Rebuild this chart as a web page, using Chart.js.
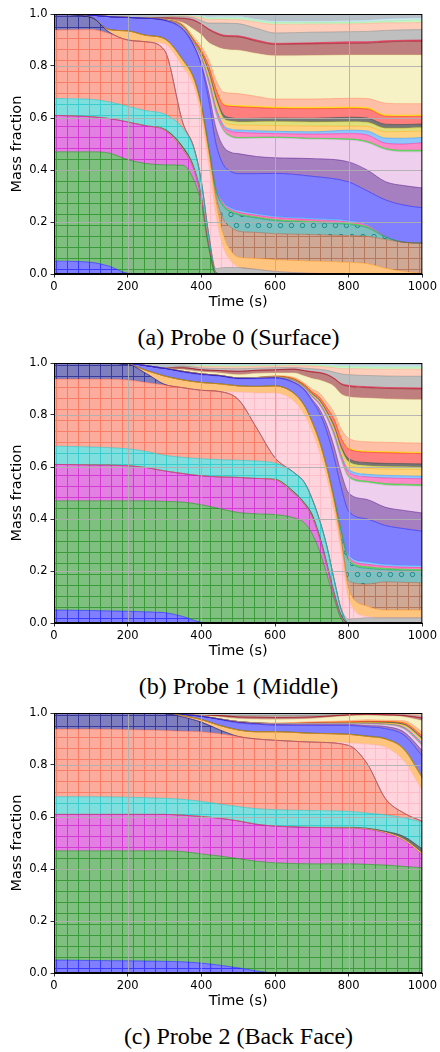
<!DOCTYPE html>
<html lang="en">
<head>
<meta charset="utf-8">
<title>Species mass fractions at three probes</title>
<script src="https://cdn.jsdelivr.net/npm/chart.js@4.4.1/dist/chart.umd.min.js"></script>
<style>
  html,body{margin:0;padding:0;background:#fff;}
  body{width:440px;height:1052px;position:relative;overflow:hidden;}
  canvas.plot{position:absolute;left:0;width:440px;height:312px;}
  .cap{position:absolute;left:0;width:477px;text-align:center;font-family:"Liberation Serif","DejaVu Serif",serif;font-size:24px;line-height:24px;color:#000;white-space:nowrap;}
</style>
</head>
<body>
<canvas id="probe0" class="plot" width="440" height="312" style="top:0px"></canvas>
<div class="cap" style="top:325px">(a) Probe 0 (Surface)</div>
<canvas id="probe1" class="plot" width="440" height="312" style="top:349px"></canvas>
<div class="cap" style="top:674px">(b) Probe 1 (Middle)</div>
<canvas id="probe2" class="plot" width="440" height="312" style="top:699px"></canvas>
<div class="cap" style="top:1024px">(c) Probe 2 (Back Face)</div>
<script>
// ---------------- Probe 0 (surface): time grid and species mass fractions ----------------
const p0_time = [0,100,150,200,250,300,350,380,400,420,440,460,480,500,550,600,700,800,850,900,950,1000];
const p0_bR = [.05,.045,.03,.003,0,0,0,0,0,0,0,0,0,0,0,0,0,0,0,0,0,0];
const p0_gR = [.42,.425,.435,.437,.425,.42,.418,.36,.27,.10,0,0,0,0,0,0,0,0,0,0,0,0];
const p0_mR = [.14,.135,.133,.145,.145,.133,.06,.04,.02,.01,0,0,0,0,0,0,0,0,0,0,0,0];
const p0_yL = [0,0,0,0,0,.001,.002,.002,.002,.001,0,0,0,0,0,0,0,0,0,0,0,0];
const p0_dG = [0,0,0,0,0,.003,.008,.008,.008,.004,0,0,0,0,0,0,0,0,0,0,0,0];
const p0_cR = [.065,.067,.064,.06,.058,.058,.072,.07,.055,.035,.005,0,0,0,0,0,0,0,0,0,0,0];
const p0_sR = [.263,.268,.263,.255,.265,.245,.02,.005,0,0,0,0,0,0,0,0,0,0,0,0,0,0];
const p0_nR = [.062,.048,.005,0,0,0,0,0,0,0,0,0,0,0,0,0,0,0,0,0,0,0];
const p0_lG = [0,0,0,0,0,0,0,0,.002,.005,.015,.025,.025,.025,.018,.01,.003,0,0,0,0,0];
const p0_pI = [0,0,0,0,0,.025,.215,.235,.243,.265,.20,.075,.025,.002,0,0,0,0,0,0,0,0];
const p0_oR = [0,0,.01,.035,.025,.02,.027,.03,.04,.05,.055,.05,.04,.038,.042,.045,.047,.045,.04,.022,.01,.003];
const p0_bC = [0,0,0,0,0,0,0,0,.003,.005,.025,.06,.09,.10,.10,.10,.102,.103,.105,.111,.112,.116];
const p0_tO = [0,0,0,0,0,0,0,0,.005,.01,.02,.05,.058,.063,.055,.05,.046,.042,.033,.009,0,0];
const p0_g1 = [0,0,0,0,0,0,.002,.002,.002,.004,.004,.004,.004,.004,.004,.004,.004,.004,.004,.001,0,0];
const p0_h1 = [0,0,0,0,0,0,.002,.002,.003,.005,.006,.006,.006,.006,.007,.008,.007,.006,.005,.001,0,0];
const p0_s1 = [0,0,0,0,0,0,.002,.002,.003,.006,.006,.006,.006,.007,.006,.005,.005,.005,.003,.001,0,0];
const p0_bB = [0,.008,.05,.052,.066,.07,.112,.119,.144,.17,.164,.144,.141,.141,.154,.165,.162,.149,.13,.14,.143,.136];
const p0_pU = [0,0,0,0,0,.002,.003,.005,.01,.03,.06,.07,.073,.077,.066,.06,.068,.077,.08,.07,.075,.076];
const p0_lV = [0,0,0,0,0,.001,.003,.005,.015,.03,.055,.06,.059,.058,.07,.076,.074,.084,.105,.123,.13,.139];
const p0_g2 = [0,0,0,0,0,0,.001,.001,.002,.004,.004,.004,.004,.004,.004,.004,.004,.005,.005,.005,.006,.006];
const p0_h2 = [0,0,0,0,0,0,.002,.002,.005,.01,.014,.013,.018,.02,.016,.013,.016,.02,.025,.02,.024,.029];
const p0_s2 = [0,0,0,0,0,0,.001,.001,.003,.006,.007,.007,.008,.009,.009,.009,.009,.013,.015,.02,.022,.02];
const p0_gL = [0,0,0,0,0,0,.002,.002,.005,.012,.018,.016,.019,.019,.021,.022,.022,.016,.018,.024,.026,.025];
const p0_kH = [0,0,0,0,0,0,.001,.002,.005,.01,.012,.01,.012,.012,.014,.016,.016,.017,.016,.014,.013,.013];
const p0_dM = [0,0,0,0,0,0,.001,.002,.005,.008,.01,.013,.013,.013,.013,.013,.014,.017,.016,.015,.014,.014];
const p0_rD = [0,0,0,0,0,0,.002,.005,.01,.02,.03,.039,.044,.045,.041,.037,.037,.034,.035,.031,.031,.03];
const p0_yW = [0,0,0,0,0,0,.001,.002,.002,.003,.004,.004,.004,.005,.005,.005,.005,.005,.005,.005,.005,.005];
const p0_sL = [0,0,0,0,0,0,.003,.008,.013,.022,.031,.044,.047,.046,.038,.031,.032,.034,.035,.045,.044,.043];
const p0_cM = [0,0,0,0,0,.002,.006,.03,.045,.065,.13,.165,.166,.167,.165,.166,.167,.166,.167,.185,.187,.187];
const p0_mA = [0,0,0,0,0,.005,.017,.035,.04,.05,.05,.05,.051,.051,.047,.044,.045,.045,.046,.05,.053,.053];
const p0_cr = [0,0,0,0,0,0,.001,.002,.002,.003,.004,.004,.004,.004,.005,.004,.004,.006,.005,.005,.004,.005];
const p0_gY = [0,0,0,0,0,.003,.006,.008,.013,.022,.036,.046,.047,.047,.045,.04,.041,.039,.04,.04,.04,.04];
const p0_lS = [0,0,0,0,0,0,.003,.005,.01,.013,.014,.014,.014,.015,.023,.033,.031,.03,.03,.029,.027,.028];
const p0_lN = [0,0,0,0,0,0,.001,.002,.004,.006,.006,.006,.007,.007,.007,.007,.006,.006,.006,.007,.009,.01];
const p0_lB = [0,0,0,0,0,0,.001,.002,.004,.005,.005,.005,.005,.005,.005,.006,.006,.006,.007,.008,.008,.007];
const p0_sT = [0,.004,.01,.013,.016,.012,.005,.006,.007,.011,.01,.01,.01,.01,.02,.027,.027,.026,.024,.019,.017,.015];

// ---------------- Probe 1 (middle) ----------------
const p1_time = [0,100,200,250,300,350,400,450,500,550,600,650,680,700,720,740,760,780,800,850,900,950,1000];
const p1_bR = [.05,.048,.045,.043,.04,.025,.003,0,0,0,0,0,0,0,0,0,0,0,0,0,0,0,0];
const p1_gR = [.42,.422,.425,.427,.428,.44,.452,.44,.425,.42,.417,.405,.385,.345,.28,.19,.095,.015,0,0,0,0,0];
const p1_mR = [.14,.138,.135,.128,.117,.11,.111,.122,.135,.136,.133,.095,.07,.065,.05,.035,.015,.005,0,0,0,0,0];
const p1_yL = [0,0,0,0,0,0,0,0,0,0,.001,.001,.001,.001,.001,.001,.001,.001,0,0,0,0,0];
const p1_dG = [0,0,0,0,0,0,0,0,0,0,.002,.005,.006,.009,.009,.009,.009,.009,0,0,0,0,0];
const p1_cR = [.07,.069,.065,.062,.06,.062,.066,.066,.066,.067,.062,.074,.078,.06,.06,.065,.05,.02,0,0,0,0,0];
const p1_sR = [.258,.261,.265,.265,.27,.268,.263,.262,.234,.127,.02,0,0,0,0,0,0,0,0,0,0,0,0];
const p1_nR = [.062,.062,.06,.035,.003,0,0,0,0,0,0,0,0,0,0,0,0,0,0,0,0,0,0];
const p1_lG = [0,0,0,0,0,0,0,0,0,0,0,0,0,0,0,0,0,.005,.015,.02,.02,.02,.02];
const p1_pI = [0,0,0,0,0,0,0,0,.028,.135,.25,.275,.26,.26,.26,.26,.26,.215,.075,.005,0,0,0];
const p1_oR = [0,0,0,.012,.032,.03,.03,.03,.024,.025,.027,.03,.035,.035,.04,.04,.04,.04,.04,.04,.03,.03,.03];
const p1_bC = [0,0,0,0,0,0,0,0,0,0,0,0,0,0,0,0,.002,.01,.03,.085,.108,.106,.105];
const p1_tO = [0,0,0,0,0,0,0,0,0,0,0,0,0,0,0,0,.008,.03,.08,.06,.047,.046,.045];
const p1_g1 = [0,0,0,0,0,0,0,0,0,0,0,0,.001,.001,.002,.002,.003,.005,.005,.006,.005,.005,.005];
const p1_h1 = [0,0,0,0,0,0,0,0,0,0,0,0,.001,.001,.002,.003,.004,.005,.007,.01,.008,.008,.008];
const p1_s1 = [0,0,0,0,0,0,0,0,0,0,0,0,.001,.001,.002,.003,.003,.005,.008,.009,.007,.007,.007];
const p1_bB = [0,0,.004,.018,.03,.03,.03,.03,.028,.03,.03,.04,.057,.077,.104,.132,.15,.155,.17,.165,.15,.141,.133];
const p1_pU = [0,0,0,0,0,.003,.003,.002,.002,.002,.002,.003,.004,.007,.015,.025,.04,.055,.07,.075,.07,.07,.07];
const p1_lV = [0,0,0,0,0,0,0,0,.001,.002,.002,.003,.004,.008,.015,.025,.04,.05,.06,.065,.085,.095,.103];
const p1_g2 = [0,0,0,0,0,0,0,0,0,0,0,.001,.001,.001,.001,.001,.002,.003,.005,.005,.006,.006,.006];
const p1_h2 = [0,0,0,0,0,0,0,0,0,0,0,.001,.001,.002,.004,.005,.008,.012,.015,.017,.022,.022,.023];
const p1_s2 = [0,0,0,0,0,0,0,0,0,0,0,0,0,.001,.002,.003,.005,.006,.01,.01,.01,.01,.01];
const p1_gL = [0,0,0,0,0,0,0,0,0,0,.001,.002,.002,.003,.004,.006,.01,.014,.02,.023,.024,.025,.025];
const p1_kH = [0,0,0,0,0,0,0,0,0,0,0,.001,.002,.003,.004,.005,.007,.008,.01,.01,.01,.01,.01];
const p1_dM = [0,0,0,0,0,0,0,0,0,0,0,.001,.002,.003,.004,.005,.008,.01,.012,.012,.012,.012,.012];
const p1_rD = [0,0,0,0,0,0,0,0,0,0,.002,.003,.005,.007,.01,.015,.025,.032,.038,.04,.041,.04,.04];
const p1_yW = [0,0,0,0,0,0,0,0,0,0,0,.001,.001,.002,.002,.002,.002,.003,.004,.004,.004,.004,.004];
const p1_sL = [0,0,0,0,0,0,0,0,0,0,.002,.004,.005,.008,.014,.018,.023,.032,.036,.036,.036,.036,.036];
const p1_cM = [0,0,0,0,0,.007,.008,.01,.012,.016,.011,.017,.028,.04,.05,.075,.10,.135,.16,.168,.167,.167,.167];
const p1_mA = [0,0,0,0,0,.007,.008,.009,.013,.012,.012,.014,.02,.025,.027,.03,.03,.038,.04,.04,.04,.041,.041];
const p1_cr = [0,0,0,0,0,0,0,0,0,0,0,.001,.001,.002,.002,.002,.002,.003,.004,.004,.004,.004,.004];
const p1_gY = [0,0,0,0,0,.006,.007,.008,.01,.008,.008,.006,.009,.011,.012,.015,.023,.037,.041,.043,.044,.044,.045];
const p1_lS = [0,0,0,0,0,0,.006,.007,.007,.007,.006,.007,.009,.01,.011,.013,.017,.02,.023,.025,.026,.027,.027];
const p1_lN = [0,0,0,0,0,0,.003,.004,.004,.003,.003,.003,.003,.004,.004,.005,.006,.008,.008,.008,.008,.008,.008];
const p1_lB = [0,0,0,0,0,0,.004,.004,.004,.003,.003,.003,.003,.003,.004,.004,.005,.005,.005,.005,.006,.006,.006];
const p1_sT = [0,0,.001,.01,.02,.012,.006,.006,.007,.007,.006,.004,.005,.005,.005,.006,.007,.009,.009,.01,.01,.01,.01];

// ---------------- Probe 2 (back face) ----------------
const p2_time = [0,100,200,300,350,400,450,500,550,600,700,800,850,900,950,1000];
const p2_bR = [.05,.048,.047,.045,.043,.038,.03,.02,.008,0,0,0,0,0,0,0];
const p2_gR = [.42,.422,.423,.425,.424,.42,.42,.42,.422,.424,.42,.42,.418,.415,.41,.405];
const p2_mR = [.14,.14,.14,.14,.14,.144,.145,.145,.142,.141,.14,.137,.135,.123,.10,.05];
const p2_yL = [0,0,0,0,0,0,0,0,0,0,0,.001,.001,.002,.003,.004];
const p2_dG = [0,0,0,0,0,0,0,0,0,0,0,.002,.003,.005,.012,.018];
const p2_cR = [.068,.068,.066,.062,.061,.058,.055,.055,.06,.063,.065,.062,.058,.063,.072,.103];
const p2_sR = [.26,.26,.26,.261,.262,.268,.27,.27,.268,.267,.263,.253,.19,.062,.018,.003];
const p2_nR = [.062,.062,.064,.065,.055,.037,.015,0,0,0,0,0,0,0,0,0];
const p2_lG = [0,0,0,0,0,0,0,0,0,0,0,0,0,0,0,0];
const p2_pI = [0,0,0,0,0,0,0,0,0,0,0,.01,.075,.198,.20,.117];
const p2_oR = [0,0,0,0,.005,.01,.017,.025,.028,.033,.034,.033,.03,.032,.045,.05];
const p2_bC = [0,0,0,0,0,0,0,0,0,0,0,0,0,0,0,0];
const p2_tO = [0,0,0,0,0,0,0,0,0,0,0,0,0,0,0,0];
const p2_g1 = [0,0,0,0,0,0,0,0,0,0,0,0,.001,.001,.002,.004];
const p2_h1 = [0,0,0,0,0,0,0,0,0,0,0,0,.001,.001,.002,.004];
const p2_s1 = [0,0,0,0,0,0,0,0,0,0,0,0,0,.001,.002,.004];
const p2_bB = [0,0,0,.001,.005,.012,.023,.027,.029,.025,.03,.034,.035,.037,.049,.073];
const p2_pU = [0,0,0,0,0,.001,.002,.003,.003,.003,.004,.004,.005,.008,.012,.02];
const p2_lV = [0,0,0,0,0,0,0,.002,.002,.003,.004,.004,.005,.007,.011,.018];
const p2_g2 = [0,0,0,0,0,0,0,0,0,0,0,0,.001,.001,.002,.003];
const p2_h2 = [0,0,0,0,0,0,0,0,0,0,0,0,.002,.001,.004,.006];
const p2_s2 = [0,0,0,0,0,0,0,0,0,0,0,0,.001,0,.002,.004];
const p2_gL = [0,0,0,0,0,0,0,0,0,0,0,.002,.002,.003,.005,.008];
const p2_kH = [0,0,0,0,0,0,0,0,0,0,0,0,.001,.002,.003,.005];
const p2_dM = [0,0,0,0,0,0,0,0,0,0,0,0,.001,.002,.003,.005];
const p2_rD = [0,0,0,0,0,0,0,0,0,0,.003,.004,.003,.003,.005,.009];
const p2_yW = [0,0,0,0,0,0,0,0,0,0,0,0,.001,.001,.002,.003];
const p2_sL = [0,0,0,0,0,0,0,0,0,.003,.003,.004,.005,.004,.006,.012];
const p2_cM = [0,0,0,0,0,.002,.008,.011,.014,.013,.012,.018,.016,.016,.015,.042];
const p2_mA = [0,0,0,0,0,0,.005,.007,.008,.008,.007,.005,.005,.005,.005,.01];
const p2_cr = [0,0,0,0,0,0,0,0,0,0,0,0,0,.001,.001,.002];
const p2_gY = [0,0,0,0,0,0,0,.005,.006,.007,.006,.003,.003,.002,.003,.006];
const p2_lS = [0,0,0,0,0,0,0,0,0,0,0,0,0,.002,.002,.005];
const p2_lN = [0,0,0,0,0,0,0,0,0,0,0,0,0,0,.001,.002];
const p2_lB = [0,0,0,0,0,0,0,0,0,0,0,0,0,0,.001,.002];
const p2_sT = [0,0,0,.001,.005,.01,.01,.01,.01,.01,.009,.004,.002,.002,.002,.003];

// Axis ticks
const xTicks = [0,200,400,600,800,1000];
const yTicks = [0,0.2,0.4,0.6,0.8,1.0];

// Stack order (bottom to top) with fill colour and fill style
const LAYERS = [
  ['bR','0,0,255','grid'],      ['gR','0,128,0','grid'],       ['mR','200,0,200','grid'],
  ['yL','255,215,0','solid',.85],['dG','40,40,40','solid',.65], ['cR','0,191,191','grid'],
  ['sR','250,90,60','grid'],    ['nR','0,0,128','grid'],       ['lG','128,128,128','solid',.5],
  ['pI','255,170,185','grid'],  ['oR','255,140,0','solid',.5], ['bC','160,82,45','grid'],
  ['tO','0,128,128','ring'],    ['g1','50,205,50','solid',.75],['h1','255,20,147','solid',.55],
  ['s1','30,144,255','solid',.5],['bB','0,0,255','solid',.5],  ['pU','75,0,130','solid',.5],
  ['lV','221,160,221','solid',.5],['g2','50,205,50','solid',.75],['h2','255,20,147','solid',.5],
  ['s2','30,144,255','solid',.5],['gL','255,165,0','solid',.5],['kH','191,191,0','solid',.5],
  ['dM','60,60,60','solid',.7], ['rD','255,0,0','solid',.5],   ['yW','255,215,0','solid',.9],
  ['sL','255,127,80','solid',.5],['cM','240,230,140','solid',.5],['mA','128,0,0','solid',.5],
  ['cr','220,20,60','solid',.7],['gY','128,128,128','solid',.5],['lS','255,160,122','solid',.5],
  ['lN','144,238,144','solid',.5],['lB','173,216,230','solid',.6],['sT','112,128,144','solid',.5]
];

const probes = [
  {id:'probe0', time:p0_time, s:{bR:p0_bR,gR:p0_gR,mR:p0_mR,yL:p0_yL,dG:p0_dG,cR:p0_cR,sR:p0_sR,nR:p0_nR,lG:p0_lG,pI:p0_pI,oR:p0_oR,bC:p0_bC,tO:p0_tO,g1:p0_g1,h1:p0_h1,s1:p0_s1,bB:p0_bB,pU:p0_pU,lV:p0_lV,g2:p0_g2,h2:p0_h2,s2:p0_s2,gL:p0_gL,kH:p0_kH,dM:p0_dM,rD:p0_rD,yW:p0_yW,sL:p0_sL,cM:p0_cM,mA:p0_mA,cr:p0_cr,gY:p0_gY,lS:p0_lS,lN:p0_lN,lB:p0_lB,sT:p0_sT}},
  {id:'probe1', time:p1_time, s:{bR:p1_bR,gR:p1_gR,mR:p1_mR,yL:p1_yL,dG:p1_dG,cR:p1_cR,sR:p1_sR,nR:p1_nR,lG:p1_lG,pI:p1_pI,oR:p1_oR,bC:p1_bC,tO:p1_tO,g1:p1_g1,h1:p1_h1,s1:p1_s1,bB:p1_bB,pU:p1_pU,lV:p1_lV,g2:p1_g2,h2:p1_h2,s2:p1_s2,gL:p1_gL,kH:p1_kH,dM:p1_dM,rD:p1_rD,yW:p1_yW,sL:p1_sL,cM:p1_cM,mA:p1_mA,cr:p1_cr,gY:p1_gY,lS:p1_lS,lN:p1_lN,lB:p1_lB,sT:p1_sT}},
  {id:'probe2', time:p2_time, s:{bR:p2_bR,gR:p2_gR,mR:p2_mR,yL:p2_yL,dG:p2_dG,cR:p2_cR,sR:p2_sR,nR:p2_nR,lG:p2_lG,pI:p2_pI,oR:p2_oR,bC:p2_bC,tO:p2_tO,g1:p2_g1,h1:p2_h1,s1:p2_s1,bB:p2_bB,pU:p2_pU,lV:p2_lV,g2:p2_g2,h2:p2_h2,s2:p2_s2,gL:p2_gL,kH:p2_kH,dM:p2_dM,rD:p2_rD,yW:p2_yW,sL:p2_sL,cM:p2_cM,mA:p2_mA,cr:p2_cr,gY:p2_gY,lS:p2_lS,lN:p2_lN,lB:p2_lB,sT:p2_sT}}
];

// Hatch tiles: '+' grid lines or staggered rings, drawn in the layer colour
function makePattern(ctx, rgb, kind) {
  const c = document.createElement('canvas');
  const g = c.getContext('2d');
  if (kind === 'grid') {
    c.width = 11; c.height = 11;
    g.fillStyle = `rgba(${rgb},0.5)`; g.fillRect(0, 0, 11, 11);
    g.fillStyle = `rgba(${rgb},0.55)`;
    g.fillRect(0, 5, 11, 1); g.fillRect(1, 0, 1, 5); g.fillRect(1, 6, 1, 5);
  } else {
    c.width = 11; c.height = 22;
    g.fillStyle = `rgba(${rgb},0.5)`; g.fillRect(0, 0, 11, 22);
    g.strokeStyle = `rgba(${rgb},0.8)`; g.lineWidth = 1;
    [[5.5, 5.5], [0, 16.5], [11, 16.5]].forEach(([cx, cy]) => {
      g.beginPath(); g.arc(cx, cy, 2.2, 0, Math.PI * 2); g.stroke();
    });
  }
  return ctx.createPattern(c, 'repeat');
}

// Grid lines and the axes box, drawn above the filled areas
const overlay = {
  id: 'overlay',
  afterDatasetsDraw(chart) {
    const {ctx, chartArea: a, scales: {x, y}} = chart;
    ctx.save();
    ctx.strokeStyle = 'rgba(176,176,176,0.9)'; ctx.lineWidth = 1;
    ctx.beginPath();
    xTicks.slice(1, -1).forEach(v => {
      const px = Math.round(x.getPixelForValue(v)) + 0.5;
      ctx.moveTo(px, a.top); ctx.lineTo(px, a.bottom);
    });
    yTicks.slice(1, -1).forEach(v => {
      const py = Math.round(y.getPixelForValue(v)) + 0.5;
      ctx.moveTo(a.left, py); ctx.lineTo(a.right, py);
    });
    ctx.stroke();
    ctx.strokeStyle = '#000'; ctx.lineWidth = 1;
    ctx.strokeRect(a.left + 0.5, a.top + 0.5, a.right - a.left - 1, a.bottom - a.top - 1);
    ctx.restore();
  }
};

const tickFont = {family: 'DejaVu Sans', size: 11.5};
const titleFont = {family: 'DejaVu Sans', size: 14.5};

probes.forEach(p => {
  const ctx = document.getElementById(p.id).getContext('2d');
  const datasets = LAYERS.map(([key, rgb, kind, alpha], i) => ({
    label: key,
    data: p.time.map((t, j) => ({x: t, y: p.s[key][j]})),
    fill: i === 0 ? 'origin' : '-1',
    backgroundColor: kind === 'solid' ? `rgba(${rgb},${alpha})` : makePattern(ctx, rgb, kind),
    borderColor: `rgba(${rgb},${kind === 'solid' ? Math.min(1, alpha + 0.25) : 0.75})`,
    borderWidth: 0.6,
    pointRadius: 0,
    pointHoverRadius: 0,
    cubicInterpolationMode: 'monotone'
  }));

  new Chart(ctx, {
    type: 'line',
    data: {datasets},
    plugins: [overlay],
    options: {
      responsive: false,
      animation: false,
      devicePixelRatio: 1,
      events: [],
      layout: {padding: {top: 14, right: 17, bottom: 1, left: 0}},
      plugins: {legend: {display: false}, tooltip: {enabled: false}},
      scales: {
        x: {
          type: 'linear', min: 0, max: 1000,
          afterBuildTicks: s => { s.ticks = xTicks.map(v => ({value: v})); },
          afterFit: s => { s.height = 37; },
          ticks: {font: tickFont, color: '#000', padding: 3, maxRotation: 0, callback: v => String(v)},
          grid: {drawOnChartArea: false, tickColor: '#000', tickLength: 3.5, tickWidth: 0.8},
          border: {color: '#000', width: 1},
          title: {display: true, text: 'Time (s)', font: titleFont, color: '#000', padding: {top: 0, bottom: 0}}
        },
        y: {
          stacked: true, min: 0, max: 1,
          afterBuildTicks: s => { s.ticks = yTicks.map(v => ({value: v})); },
          afterFit: s => { s.width = 54; },
          ticks: {font: tickFont, color: '#000', padding: 3, callback: v => Number(v).toFixed(1)},
          grid: {drawOnChartArea: false, tickColor: '#000', tickLength: 3.5, tickWidth: 0.8},
          border: {color: '#000', width: 1},
          title: {display: true, text: 'Mass fraction', font: titleFont, color: '#000', padding: {top: 8.8, bottom: 0}}
        }
      }
    }
  });
});
</script>
</body>
</html>
